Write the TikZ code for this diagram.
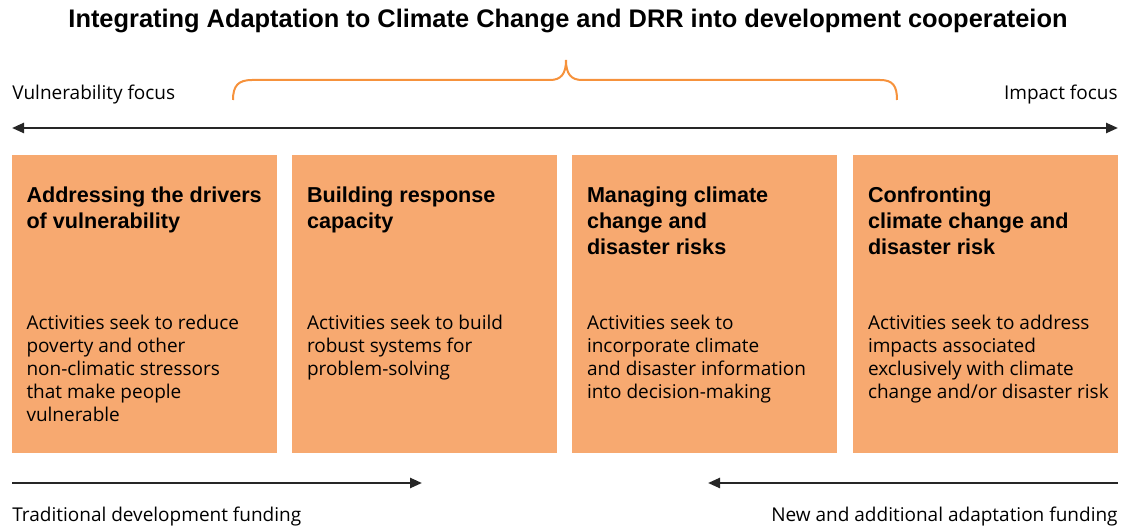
\documentclass[tikz,border=0pt]{standalone}
\usepackage{fontspec}
\setmainfont{Open Sans}
\newfontfamily\headfont{Liberation Sans}
\usetikzlibrary{arrows.meta}
\definecolor{boxorange}{RGB}{247,169,112}
\definecolor{braceorange}{RGB}{246,146,60}
\tikzset{
  actbox/.style={rectangle, fill=boxorange, inner sep=0pt, minimum width=132.5pt, minimum height=149pt},
  headtext/.style={anchor=base west, align=left, inner sep=0pt, font=\headfont\bfseries\fontsize{10.8}{13}\selectfont},
  bodytext/.style={anchor=base west, align=left, inner sep=0pt, font=\fontsize{9.5}{11.5}\selectfont},
  sidelabel/.style={inner sep=0pt, font=\fontsize{9.5}{11.5}\selectfont},
  scalearrow/.style={line width=1.2pt, black!85, arrows={-Triangle[length=6pt,width=5pt]}}
}
\begin{document}
\begin{tikzpicture}[x=0.5pt,y=-0.5pt]
    \useasboundingbox (0,0) rectangle (1136,528);

    \node[anchor=base, inner sep=0pt, font=\headfont\bfseries\fontsize{12.7}{15}\selectfont] at (568,28) (title)
        {Integrating Adaptation to Climate Change and DRR into development cooperateion};

    % focus scale
    \node[sidelabel, anchor=base west] at (12,100) (vuln) {Vulnerability focus};
    \node[sidelabel, anchor=base east] at (1118,100) (impact) {Impact focus};
    \coordinate (focusL) at (12,128);
    \coordinate (focusR) at (1118,128);
    \draw[scalearrow, arrows={Triangle[length=6pt,width=5pt]-Triangle[length=6pt,width=5pt]}] (focusL) -- (focusR);

    % brace
    \draw[braceorange, line width=1pt] (233,100) .. controls (233,86) and (238,80) .. (252,80) -- (550,80)
        .. controls (561,80) and (566,74) .. (566,60) .. controls (566,74) and (571,80) .. (582,80) -- (880,80)
        .. controls (893,80) and (897,86) .. (897,100);

    % boxes
    \foreach \i/\cx in {1/144, 2/424.5, 3/704.5, 4/985.5}
        \node[actbox] at (\cx,304) (b\i) {};

    % headings (base = last line)
    \node[headtext] at ([xshift=7.5pt,yshift=-37pt]b1.north west) (h1) {Addressing the drivers\\of vulnerability};
    \node[headtext] at ([xshift=7.5pt,yshift=-37pt]b2.north west) (h2) {Building response\\capacity};
    \node[headtext] at ([xshift=7.5pt,yshift=-50pt]b3.north west) (h3) {Managing climate\\change and\\disaster risks};
    \node[headtext] at ([xshift=7.5pt,yshift=-50pt]b4.north west) (h4) {Confronting\\climate change and\\disaster risk};

    \node[bodytext] at ([xshift=7.5pt,yshift=-133.5pt]b1.north west) (t1)
        {Activities seek to reduce\\poverty and other\\non-climatic stressors\\that make people\\vulnerable};
    \node[bodytext] at ([xshift=7.5pt,yshift=-110.5pt]b2.north west) (t2)
        {Activities seek to build\\robust systems for\\problem-solving};
    \node[bodytext] at ([xshift=7.5pt,yshift=-122pt]b3.north west) (t3)
        {Activities seek to\\incorporate climate\\and disaster information\\into decision-making};
    \node[bodytext] at ([xshift=7.5pt,yshift=-122pt]b4.north west) (t4)
        {Activities seek to address\\impacts associated\\exclusively with climate\\change and/or disaster risk};

    % funding
    \coordinate (tradL) at (12,483);
    \coordinate (tradR) at (422,483);
    \coordinate (newR) at (1118,483);
    \coordinate (newL) at (708,483);
    \draw[scalearrow] (tradL) -- (tradR);
    \draw[scalearrow] (newR) -- (newL);
    \node[sidelabel, anchor=base west] at (12,522) (trad) {Traditional development funding};
    \node[sidelabel, anchor=base east] at (1118,522) (new) {New and additional adaptation funding};
\end{tikzpicture}
\end{document}
